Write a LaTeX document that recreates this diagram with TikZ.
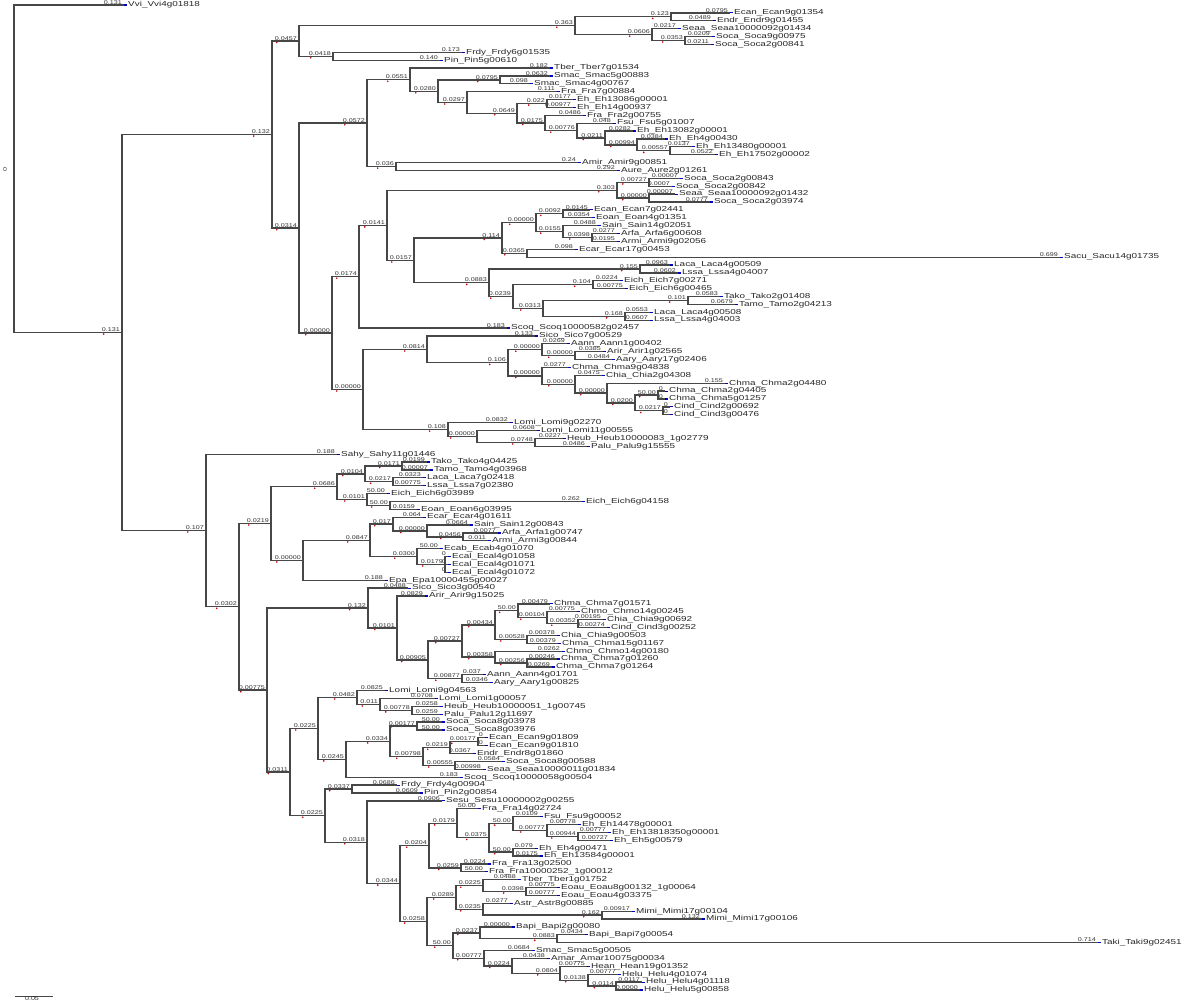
\documentclass[tikz,border=0pt]{standalone}
\usepackage{fontspec}
\setmainfont{Liberation Sans}
\newfontfamily\nmfont[FakeStretch=1.38]{Liberation Sans}
\newfontfamily\blfont[FakeStretch=1.3]{Liberation Sans}
\usetikzlibrary{calc}
\tikzset{
 br/.style={draw=black!72, line width=1.3pt},
 nm/.style={anchor=west, inner sep=0pt, xshift=4pt, font=\nmfont\fontsize{7.2}{8}\selectfont, text=black!85},
 bl/.style={anchor=south east, inner sep=0pt, xshift=-2pt, yshift=0.6pt, font=\blfont\fontsize{5.5}{6}\selectfont, text=black!80},
 tp/.style={draw=blue!75!black, line width=1.2pt},
 rm/.style={fill=red!80!black}
}
\newcommand\lf[5]{\coordinate (#1) at (#2,{5+(#3-1)*7.88});
  \node[nm] (#1t) at (#1) {#5};
  \node[bl] at (#1) {#4};
  \draw[tp] ([xshift=-1pt]#1) -- ([xshift=3pt]#1);}
\newcommand\nd[5]{\coordinate (#1m) at ($(#3)!0.5!(#4)$);
  \coordinate (#1) at (#2,0 |- #1m);
  \draw[br] (#1) |- (#3);
  \draw[br] (#1) |- (#4);
  \node[bl] (#1l) at (#1) {#5};
  \fill[rm] ([xshift=2pt,yshift=-2.2pt]#1l.south west) circle[radius=0.9pt];}
\newcommand\ndt[6]{\coordinate (#1m) at ($(#3)!0.5!(#5)$);
  \coordinate (#1) at (#2,0 |- #1m);
  \draw[br] (#1) |- (#3);
  \draw[br] (#1) |- (#4);
  \draw[br] (#1) |- (#5);
  \node[bl] (#1l) at (#1) {#6};
  \fill[rm] ([xshift=2pt,yshift=-2.2pt]#1l.south west) circle[radius=0.9pt];}
\begin{document}
\begin{tikzpicture}[x=1pt,y=-1pt]
\useasboundingbox (0,0) rectangle (1200,1008);
% leaves
\lf{L1}{124}{1}{0.131}{Vvi\_Vvi4g01818}
\lf{L2}{730}{2}{0.0795}{Ecan\_Ecan9g01354}
\lf{L3}{713}{3}{0.0489}{Endr\_Endr9g01455}
\lf{L4}{678}{4}{0.0217}{Seaa\_Seaa10000092g01434}
\lf{L5}{712}{5}{0.0209}{Soca\_Soca9g00975}
\lf{L6}{711}{6}{0.0211}{Soca\_Soca2g00841}
\lf{L7}{462}{7}{0.173}{Frdy\_Frdy6g01535}
\lf{L8}{440}{8}{0.140}{Pin\_Pin5g00610}
\lf{L9}{550}{9}{0.182}{Tber\_Tber7g01534}
\lf{L10}{550}{10}{0.0632}{Smac\_Smac5g00883}
\lf{L11}{530}{11}{0.098}{Smac\_Smac4g00767}
\lf{L12}{557}{12}{0.111}{Fra\_Fra7g00884}
\lf{L13}{573}{13}{0.0177}{Eh\_Eh13086g00001}
\lf{L14}{573}{14}{0.00977}{Eh\_Eh14g00937}
\lf{L15}{583}{15}{0.0486}{Fra\_Fra2g00755}
\lf{L16}{613}{16}{0.048}{Fsu\_Fsu5g01007}
\lf{L17}{633}{17}{0.0282}{Eh\_Eh13082g00001}
\lf{L18}{665}{18}{0.0384}{Eh\_Eh4g00430}
\lf{L19}{692}{19}{0.0137}{Eh\_Eh13480g00001}
\lf{L20}{715}{20}{0.0522}{Eh\_Eh17502g00002}
\lf{L21}{578}{21}{0.24}{Amir\_Amir9g00851}
\lf{L22}{617}{22}{0.292}{Aure\_Aure2g01261}
\lf{L23}{680}{23}{0.00007}{Soca\_Soca2g00843}
\lf{L24}{672}{24}{0.0007}{Soca\_Soca2g00842}
\lf{L25}{675}{25}{0.00007}{Seaa\_Seaa10000092g01432}
\lf{L26}{710}{26}{0.0777}{Soca\_Soca2g03974}
\lf{L27}{590}{27}{0.0145}{Ecan\_Ecan7g02441}
\lf{L28}{592}{28}{0.0354}{Eoan\_Eoan4g01351}
\lf{L29}{598}{29}{0.0488}{Sain\_Sain14g02051}
\lf{L30}{617}{30}{0.0277}{Arfa\_Arfa6g00608}
\lf{L31}{617}{31}{0.0195}{Armi\_Armi9g02056}
\lf{L32}{575}{32}{0.098}{Ecar\_Ecar17g00453}
\lf{L33}{1060}{33}{0.699}{Sacu\_Sacu14g01735}
\lf{L34}{670}{34}{0.0963}{Laca\_Laca4g00509}
\lf{L35}{678}{35}{0.0602}{Lssa\_Lssa4g04007}
\lf{L36}{620}{36}{0.0224}{Eich\_Eich7g00271}
\lf{L37}{625}{37}{0.00775}{Eich\_Eich6g00465}
\lf{L38}{720}{38}{0.0583}{Tako\_Tako2g01408}
\lf{L39}{735}{39}{0.0679}{Tamo\_Tamo2g04213}
\lf{L40}{650}{40}{0.0553}{Laca\_Laca4g00508}
\lf{L41}{650}{41}{0.0607}{Lssa\_Lssa4g04003}
\lf{L42}{507}{42}{0.183}{Scoq\_Scoq10000582g02457}
\lf{L43}{535}{43}{0.133}{Sico\_Sico7g00529}
\lf{L44}{567}{44}{0.0269}{Aann\_Aann1g00402}
\lf{L45}{603}{45}{0.0385}{Arir\_Arir1g02565}
\lf{L46}{612}{46}{0.0484}{Aary\_Aary17g02406}
\lf{L47}{568}{47}{0.0277}{Chma\_Chma9g04838}
\lf{L48}{602}{48}{0.0475}{Chia\_Chia2g04308}
\lf{L49}{725}{49}{0.155}{Chma\_Chma2g04480}
\lf{L50}{665}{50}{0}{Chma\_Chma2g04405}
\lf{L51}{665}{51}{0}{Chma\_Chma5g01257}
\lf{L52}{670}{52}{0}{Cind\_Cind2g00692}
\lf{L53}{670}{53}{0}{Cind\_Cind3g00476}
\lf{L54}{510}{54}{0.0832}{Lomi\_Lomi9g02270}
\lf{L55}{537}{55}{0.0608}{Lomi\_Lomi11g00555}
\lf{L56}{563}{56}{0.0227}{Heub\_Heub10000083\_1g02779}
\lf{L57}{587}{57}{0.0486}{Palu\_Palu9g15555}
\lf{L58}{337}{58}{0.188}{Sahy\_Sahy11g01446}
\lf{L59}{427}{59}{0.0199}{Tako\_Tako4g04425}
\lf{L60}{430}{60}{0.00007}{Tamo\_Tamo4g03968}
\lf{L61}{423}{61}{0.0323}{Laca\_Laca7g02418}
\lf{L62}{423}{62}{0.00775}{Lssa\_Lssa7g02380}
\lf{L63}{387}{63}{50.00}{Eich\_Eich6g03989}
\lf{L64}{582}{64}{0.262}{Eich\_Eich6g04158}
\lf{L65}{417}{65}{0.0159}{Eoan\_Eoan6g03995}
\lf{L66}{423}{66}{0.064}{Ecar\_Ecar4g01611}
\lf{L67}{470}{67}{0.0664}{Sain\_Sain12g00843}
\lf{L68}{498}{68}{0.0077}{Arfa\_Arfa1g00747}
\lf{L69}{488}{69}{0.011}{Armi\_Armi3g00844}
\lf{L70}{440}{70}{50.00}{Ecab\_Ecab4g01070}
\lf{L71}{448}{71}{0}{Ecal\_Ecal4g01058}
\lf{L72}{448}{72}{0}{Ecal\_Ecal4g01071}
\lf{L73}{448}{73}{0}{Ecal\_Ecal4g01072}
\lf{L74}{385}{74}{0.188}{Epa\_Epa10000455g00027}
\lf{L75}{408}{75}{0.0488}{Sico\_Sico3g00540}
\lf{L76}{425}{76}{0.0829}{Arir\_Arir9g15025}
\lf{L77}{550}{77}{0.00479}{Chma\_Chma7g01571}
\lf{L78}{577}{78}{0.00775}{Chmo\_Chmo14g00245}
\lf{L79}{603}{79}{0.00195}{Chia\_Chia9g00692}
\lf{L80}{607}{80}{0.00274}{Cind\_Cind3g00252}
\lf{L81}{557}{81}{0.00378}{Chia\_Chia9g00503}
\lf{L82}{558}{82}{0.00379}{Chma\_Chma15g01167}
\lf{L83}{562}{83}{0.0262}{Chmo\_Chmo14g00180}
\lf{L84}{557}{84}{0.00246}{Chma\_Chma7g01260}
\lf{L85}{552}{85}{0.0269}{Chma\_Chma7g01264}
\lf{L86}{483}{86}{0.037}{Aann\_Aann4g01701}
\lf{L87}{490}{87}{0.0346}{Aary\_Aary1g00825}
\lf{L88}{385}{88}{0.0825}{Lomi\_Lomi9g04563}
\lf{L89}{435}{89}{0.0708}{Lomi\_Lomi1g00057}
\lf{L90}{440}{90}{0.0258}{Heub\_Heub10000051\_1g00745}
\lf{L91}{440}{91}{0.0259}{Palu\_Palu12g11697}
\lf{L92}{442}{92}{50.00}{Soca\_Soca8g03978}
\lf{L93}{442}{93}{50.00}{Soca\_Soca8g03976}
\lf{L94}{485}{94}{0}{Ecan\_Ecan9g01809}
\lf{L95}{485}{95}{0}{Ecan\_Ecan9g01810}
\lf{L96}{473}{96}{0.0367}{Endr\_Endr8g01860}
\lf{L97}{502}{97}{0.0584}{Soca\_Soca8g00588}
\lf{L98}{483}{98}{0.00998}{Seaa\_Seaa10000011g01834}
\lf{L99}{460}{99}{0.183}{Scoq\_Scoq10000058g00504}
\lf{L100}{397}{100}{0.0686}{Frdy\_Frdy4g00904}
\lf{L101}{420}{101}{0.0609}{Pin\_Pin2g00854}
\lf{L102}{442}{102}{0.0906}{Sesu\_Sesu10000002g00255}
\lf{L103}{478}{103}{50.00}{Fra\_Fra14g02724}
\lf{L104}{540}{104}{0.0109}{Fsu\_Fsu9g00052}
\lf{L105}{578}{105}{0.00778}{Eh\_Eh14478g00001}
\lf{L106}{608}{106}{0.00777}{Eh\_Eh13818350g00001}
\lf{L107}{610}{107}{0.00727}{Eh\_Eh5g00579}
\lf{L108}{535}{108}{0.079}{Eh\_Eh4g00471}
\lf{L109}{540}{109}{0.0175}{Eh\_Eh13584g00001}
\lf{L110}{488}{110}{0.0224}{Fra\_Fra13g02500}
\lf{L111}{485}{111}{50.00}{Fra\_Fra10000252\_1g00012}
\lf{L112}{518}{112}{0.0488}{Tber\_Tber1g01752}
\lf{L113}{557}{113}{0.00775}{Eoau\_Eoau8g00132\_1g00064}
\lf{L114}{557}{114}{0.00777}{Eoau\_Eoau4g03375}
\lf{L115}{510}{115}{0.0277}{Astr\_Astr8g00885}
\lf{L116}{632}{116}{0.00917}{Mimi\_Mimi17g00104}
\lf{L117}{702}{117}{0.132}{Mimi\_Mimi17g00106}
\lf{L118}{512}{118}{0.00000}{Bapi\_Bapi2g00080}
\lf{L119}{585}{119}{0.0434}{Bapi\_Bapi7g00054}
\lf{L120}{1098}{120}{0.714}{Taki\_Taki9g02451}
\lf{L121}{532}{121}{0.0684}{Smac\_Smac5g00505}
\lf{L122}{547}{122}{0.0438}{Amar\_Amar10075g00034}
\lf{L123}{587}{123}{0.00775}{Hean\_Hean19g01352}
\lf{L124}{618}{124}{0.00777}{Helu\_Helu4g01074}
\lf{L125}{642}{125}{0.0117}{Helu\_Helu4g01118}
\lf{L126}{640}{126}{0.0000}{Helu\_Helu5g00858}
% internal nodes, upper clade
\nd{EE}{671}{L2}{L3}{0.123}
\nd{SS}{685}{L5}{L6}{0.0353}
\nd{ES}{652}{L4}{SS}{0.0606}
\nd{E}{575}{EE}{ES}{0.363}
\nd{FP}{333}{L7}{L8}{0.0418}
\nd{B1}{299}{E}{FP}{0.0457}
\nd{SM}{500}{L10}{L11}{0.0795}
\nd{N20}{547}{L13}{L14}{0.022}
\nd{N25}{670}{L19}{L20}{0.00557}
\nd{N24}{637}{L18}{N25}{0.00994}
\nd{N23}{605}{L17}{N24}{0.0211}
\nd{N22}{577}{L16}{N23}{0.00776}
\nd{N21}{545}{L15}{N22}{0.0175}
\nd{N19}{517}{N20}{N21}{0.0649}
\nd{N18}{467}{L12}{N19}{0.0297}
\nd{N17}{438}{SM}{N18}{0.0280}
\nd{N15}{410}{L9}{N17}{0.0551}
\nd{N16}{396}{L21}{L22}{0.036}
\nd{N2}{367}{N15}{N16}{0.0572}
\nd{N7a}{649}{L23}{L24}{0.00727}
\nd{N7b}{649}{L25}{L26}{0.00000}
\nd{N7}{617}{N7a}{N7b}{0.303}
\nd{N11}{563}{L27}{L28}{0.0092}
\nd{N12a}{592}{L30}{L31}{0.0398}
\nd{N12}{563}{L29}{N12a}{0.0155}
\nd{N10}{536}{N11}{N12}{0.00000}
\nd{N13}{527}{L32}{L33}{0.0365}
\nd{N9}{502}{N10}{N13}{0.114}
\nd{N14a}{640}{L34}{L35}{0.155}
\nd{N14c}{593}{L36}{L37}{0.104}
\nd{N14e}{688}{L38}{L39}{0.101}
\nd{N14f}{625}{L40}{L41}{0.168}
\nd{N14d}{543}{N14e}{N14f}{0.0313}
\nd{N14b}{513}{N14c}{N14d}{0.0239}
\nd{N14}{489}{N14a}{N14b}{0.0883}
\nd{N8}{414}{N9}{N14}{0.0157}
\nd{N6}{387}{N7}{N8}{0.0141}
\nd{N4}{359}{N6}{L42}{0.0174}
\nd{N5f}{575}{L45}{L46}{0.00000}
\nd{N5d}{542}{L44}{N5f}{0.00000}
\nd{N5j}{658}{L50}{L51}{50.00}
\nd{N5k}{663}{L52}{L53}{0.0217}
\nd{N5i}{635}{N5j}{N5k}{0.0200}
\nd{N5h}{607}{L49}{N5i}{0.00000}
\nd{N5g}{575}{L48}{N5h}{0.00000}
\nd{N5e}{542}{L47}{N5g}{0.00000}
\nd{N5c}{508}{N5d}{N5e}{0.106}
\nd{N5a}{427}{L43}{N5c}{0.0814}
\nd{N5m}{535}{L56}{L57}{0.0748}
\nd{N5l}{477}{L55}{N5m}{0.00000}
\nd{N5b}{448}{L54}{N5l}{0.108}
\nd{N5}{363}{N5a}{N5b}{0.00000}
\nd{N3}{332}{N4}{N5}{0.00000}
\nd{N1}{299}{N2}{N3}{0.0314}
\nd{B}{272}{B1}{N1}{0.132}
% lower clade
\nd{C3e}{402}{L59}{L60}{0.0171}
\nd{C3f}{393}{L61}{L62}{0.0217}
\nd{C3c}{365}{C3e}{C3f}{0.0104}
\nd{C3g}{390}{L64}{L65}{50.00}
\nd{C3d}{367}{L63}{C3g}{0.0101}
\nd{C3a}{337}{C3c}{C3d}{0.0686}
\nd{C3l}{463}{L68}{L69}{0.0456}
\nd{C3k}{427}{L67}{C3l}{0.00000}
\nd{C3i}{393}{L66}{C3k}{0.017}
\ndt{C3m}{445}{L71}{L72}{L73}{0.0179}
\nd{C3j}{417}{L70}{C3m}{0.0300}
\nd{C3h}{370}{C3i}{C3j}{0.0847}
\nd{C3b}{303}{C3h}{L74}{0.00000}
\nd{C3}{271}{C3a}{C3b}{0.0219}
\nd{C4k}{578}{L79}{L80}{0.00352}
\nd{C4j}{547}{L78}{C4k}{0.00104}
\nd{C4h}{518}{L77}{C4j}{50.00}
\nd{C4i}{527}{L81}{L82}{0.00528}
\nd{C4f}{495}{C4h}{C4i}{0.00434}
\nd{C4l}{527}{L84}{L85}{0.00256}
\nd{C4g}{495}{L83}{C4l}{0.00358}
\nd{C4d}{462}{C4f}{C4g}{0.00727}
\nd{C4e}{462}{L86}{L87}{0.00877}
\nd{C4c}{428}{C4d}{C4e}{0.00905}
\nd{C4b}{397}{L76}{C4c}{0.0101}
\nd{C4a}{368}{L75}{C4b}{0.132}
\nd{C9}{412}{L90}{L91}{0.00778}
\nd{C8}{380}{L89}{C9}{0.011}
\nd{C7}{357}{L88}{C8}{0.0482}
\nd{C10b}{417}{L92}{L93}{0.00177}
\nd{C10f}{478}{L94}{L95}{0.00177}
\nd{C10d}{450}{C10f}{L96}{0.0219}
\nd{C10e}{455}{L97}{L98}{0.00555}
\nd{C10c}{423}{C10d}{C10e}{0.00798}
\nd{C10a}{390}{C10b}{C10c}{0.0334}
\nd{C10}{346}{C10a}{L99}{0.0245}
\nd{C6}{318}{C7}{C10}{0.0225}
\nd{C11a}{352}{L100}{L101}{0.0337}
\nd{D3}{578}{L106}{L107}{0.00944}
\nd{D2}{547}{L105}{D3}{0.00777}
\nd{D1}{513}{L104}{D2}{50.00}
\nd{C17}{513}{L108}{L109}{50.00}
\nd{C16}{489}{D1}{C17}{0.0375}
\nd{C15}{457}{L103}{C16}{0.0179}
\nd{C14b}{461}{L110}{L111}{0.0259}
\nd{C14}{429}{C15}{C14b}{0.0204}
\nd{C19c}{526}{L113}{L114}{0.0398}
\nd{C19a}{483}{L112}{C19c}{0.0225}
\nd{C19d}{602}{L116}{L117}{0.162}
\nd{C19b}{483}{L115}{C19d}{0.0235}
\nd{C19}{456}{C19a}{C19b}{0.0289}
\nd{C20c}{557}{L119}{L120}{0.0883}
\nd{C20a}{480}{L118}{C20c}{0.0237}
\nd{C20g}{616}{L125}{L126}{0.0114}
\nd{C20f}{588}{L124}{C20g}{0.0138}
\nd{C20e}{560}{L123}{C20f}{0.0804}
\nd{C20d}{512}{L122}{C20e}{0.0224}
\nd{C20b}{484}{L121}{C20d}{0.00777}
\nd{C20}{453}{C20a}{C20b}{50.00}
\nd{C18}{427}{C19}{C20}{0.0258}
\nd{C13}{400}{C14}{C18}{0.0344}
\nd{C12}{367}{L102}{C13}{0.0318}
\nd{C11}{325}{C11a}{C12}{0.0225}
\nd{C5}{290}{C6}{C11}{0.0311}
\nd{C4}{267}{C4a}{C5}{0.00775}
\nd{C2}{239}{C3}{C4}{0.0302}
\nd{C}{206}{L58}{C2}{0.107}
\nd{A}{122}{B}{C}{0.131}
% root
\coordinate (Rm) at ($(L1)!0.5!(A)$);
\coordinate (R) at (14,0 |- Rm);
\draw[br] (R) |- (L1);
\draw[br] (R) |- (A);
\node[bl, rotate=90, anchor=center, xshift=0pt, yshift=0pt] (Rl) at (7,170) {0};
% scale bar
\coordinate (S1) at (15,996);
\coordinate (S2) at (53,996);
\draw[br, line width=0.9pt] (S1) -- (S2);
\node[bl, anchor=north, xshift=0pt, yshift=-1.5pt] (Sl) at ($(S1)!0.5!(S2)$) {0.05};
\end{tikzpicture}
\end{document}
